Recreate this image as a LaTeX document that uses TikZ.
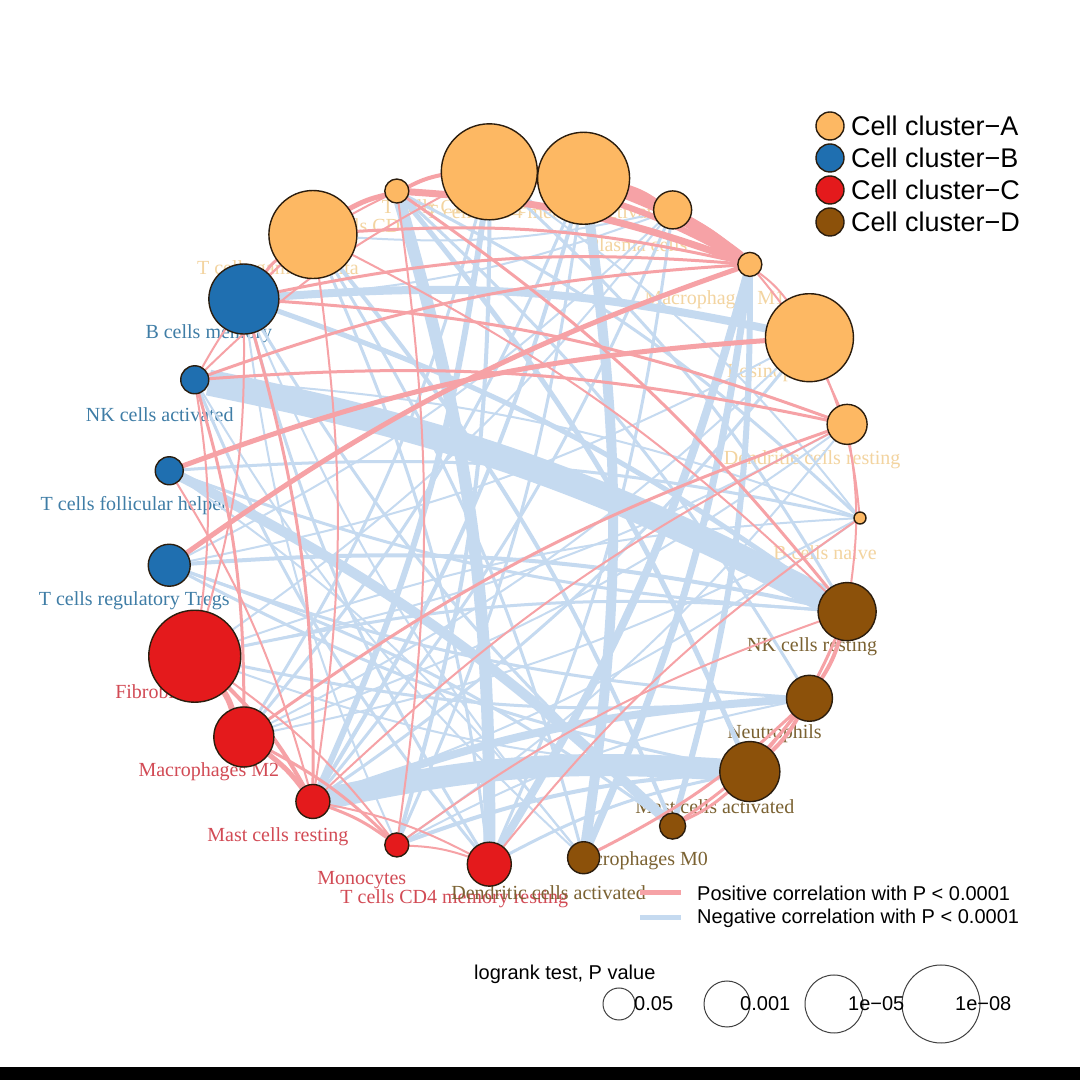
\documentclass[tikz,border=0pt]{standalone}
\usepackage{fontspec}
\setmainfont{Liberation Serif}
\newfontfamily\arialf{Liberation Sans}
\usetikzlibrary{calc}
\pgfdeclarelayer{bg}
\pgfdeclarelayer{lab}
\pgfdeclarelayer{edg}
\pgfsetlayers{bg,lab,edg,main}
\definecolor{cA}{HTML}{FDB863}
\definecolor{cB}{HTML}{1F6FB0}
\definecolor{cC}{HTML}{E41A1C}
\definecolor{cD}{HTML}{8C510A}
\definecolor{tA}{HTML}{F3D4A0}
\definecolor{tB}{HTML}{3F7DA6}
\definecolor{tC}{HTML}{D24B55}
\definecolor{tD}{HTML}{7B6232}
\definecolor{posc}{HTML}{F6A2A6}
\definecolor{negc}{HTML}{C5DAF0}
\definecolor{bord}{HTML}{2B1D0E}
\begin{document}
\begin{tikzpicture}[x=1pt,y=1pt,
  cell/.style={circle,draw=bord,line width=1.4pt,inner sep=0pt,outer sep=0pt},
  celllab/.style={font=\fontsize{20}{22}\selectfont,inner sep=0pt},
  posedge/.style={draw=posc},
  negedge/.style={draw=negc},
  legtext/.style={font=\arialf\fontsize{20}{22}\selectfont,anchor=west,inner sep=0pt},
  sizecirc/.style={circle,draw=black!75,line width=1pt,inner sep=0pt}]
\begin{pgfonlayer}{bg}
\fill[white] (0,0) rectangle (1080,1080);
\fill[black] (0,0) rectangle (1080,13);
\end{pgfonlayer}
\useasboundingbox (0,0) rectangle (1080,1080);
% cells
\foreach \k/\r/\cl/\txt in {
  0/6/A/B cells naive,
  1/20/A/Dendritic cells resting,
  2/44/A/Eosinophils,
  3/12/A/Macrophages M1,
  4/19/A/Plasma cells,
  5/46/A/T cells CD4 memory activated,
  6/48/A/T cells CD4 naive,
  7/12/A/T cells CD8,
  8/44/A/T cells gamma delta,
  9/35/B/B cells memory,
  10/14/B/NK cells activated,
  11/14/B/T cells follicular helper,
  12/21/B/T cells regulatory Tregs,
  13/46/C/Fibroblasts,
  14/30/C/Macrophages M2,
  15/17/C/Mast cells resting,
  16/12/C/Monocytes,
  17/22/C/T cells CD4 memory resting,
  18/16/D/Dendritic cells activated,
  19/13/D/Macrophages M0,
  20/30/D/Mast cells activated,
  21/23/D/Neutrophils,
  22/29/D/NK cells resting}{
  \node[cell,fill=c\cl,minimum size={2*\r*1pt}] (n\k) at ($(513,562)+(\k*360/23:347)$) {};
  \begin{pgfonlayer}{lab}
  \node[celllab,text=t\cl] (l\k) at ($(n\k.center)+(-35,-35)$) {\txt};
  \end{pgfonlayer}
}
\begin{pgfonlayer}{edg}
\foreach \a/\b/\w in {
  10/22/26, 15/20/22, 15/21/8, 5/18/10, 7/17/12, 11/19/10, 9/2/8,
  3/17/8, 3/18/7, 3/19/6, 12/22/4, 13/22/3, 13/0/2, 11/0/3, 10/0/2,
  9/22/5, 6/15/6, 6/16/4, 6/14/3, 8/19/4, 8/18/3, 7/20/5, 7/21/3,
  5/15/4, 5/16/3, 5/14/3, 4/15/3, 4/13/2, 4/8/2, 4/9/2, 2/15/3,
  2/14/2, 2/12/2, 1/13/2, 1/16/2, 0/15/2, 0/14/2, 22/11/3, 21/12/3,
  21/13/3, 20/13/2, 20/12/3, 19/9/3, 18/9/2, 18/10/2, 17/10/3, 17/9/3,
  16/9/2, 16/20/4, 17/20/3, 16/21/2, 7/0/3, 6/0/2, 6/22/3, 4/12/2,
  4/17/3, 1/14/2, 12/19/3, 11/18/2, 8/17/3}
  \draw[negedge,line width=\w pt] (n\a) to[bend left=8] (n\b);
\foreach \a/\b/\w in {
  5/3/12, 6/3/6, 7/3/7, 8/3/3, 8/7/5, 7/6/4, 6/5/5, 5/4/5, 4/3/4,
  9/3/3, 10/3/3, 12/3/5, 11/2/5, 9/1/3, 10/1/3, 3/1/2, 3/2/2, 2/0/2,
  1/22/2, 7/22/3, 8/22/2, 14/1/3, 17/0/2, 16/22/2, 21/20/4, 21/19/3,
  21/18/3, 22/21/4, 22/20/3, 20/19/3, 13/14/6, 13/15/4, 14/15/5,
  14/16/3, 13/16/2, 15/16/3, 16/17/2, 15/17/2, 9/15/3, 10/14/3,
  9/13/2, 10/13/2, 11/15/2, 7/16/2, 8/15/2, 9/8/3, 10/8/2, 9/7/2,
  10/6/2, 15/1/2}
  \draw[posedge,line width=\w pt] (n\a) to[bend left=8] (n\b);
\end{pgfonlayer}
% cluster legend
\foreach \cl/\yy in {A/954,B/922,C/890,D/858}{
  \node[cell,fill=c\cl,minimum size=28pt] (leg\cl) at (830,\yy) {};
  \node[legtext,font=\arialf\fontsize{27}{30}\selectfont] (legt\cl) at (851,\yy) {Cell cluster−\cl};
}
% correlation legend
\coordinate (lp1) at (640,187);
\coordinate (lp2) at (681,187);
\coordinate (ln1) at (640,162);
\coordinate (ln2) at (681,162);
\draw[posedge,line width=5pt] (lp1) -- (lp2);
\draw[negedge,line width=5pt] (ln1) -- (ln2);
\node[legtext] (lpt) at (697,187) {Positive correlation with P < 0.0001};
\node[legtext] (lnt) at (697,162) {Negative correlation with P < 0.0001};
% size legend
\node[legtext] (lrt) at (474,106) {logrank test, P value};
\node[sizecirc,minimum size=32pt] (s1) at (619,76) {};
\node[sizecirc,minimum size=46pt] (s2) at (727,76) {};
\node[sizecirc,minimum size=58pt] (s3) at (834,76) {};
\node[sizecirc,minimum size=78pt] (s4) at (941,76) {};
\node[legtext] (s1t) at (634,76) {0.05};
\node[legtext] (s2t) at (740,76) {0.001};
\node[legtext] (s3t) at (848,76) {1e−05};
\node[legtext] (s4t) at (955,76) {1e−08};
\end{tikzpicture}
\end{document}
